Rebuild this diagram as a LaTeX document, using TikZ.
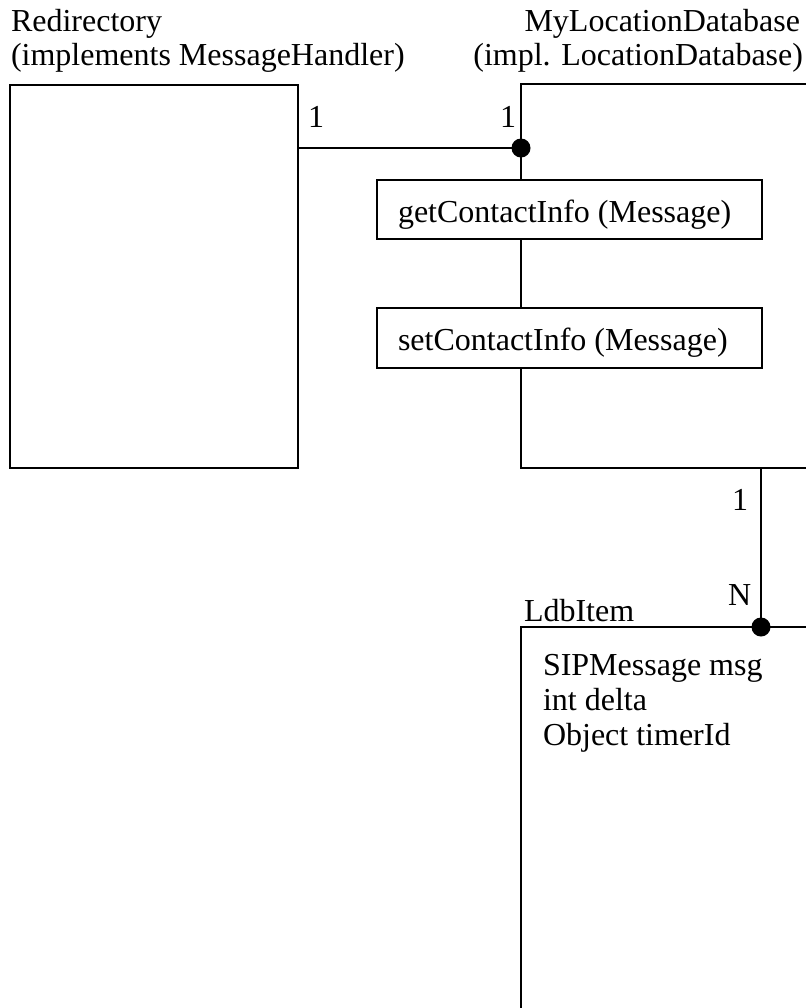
\documentclass[tikz,border=0pt]{standalone}
\usepackage{fontspec}
\setmainfont{Liberation Serif}
\begin{document}
\begin{tikzpicture}[x=0.5pt,y=-0.5pt,
  box/.style={draw,line width=1.2pt,fill=white,inner sep=0pt,outer sep=0pt,anchor=north west},
  txt/.style={inner sep=0pt,outer sep=0pt,font=\fontsize{16}{19}\selectfont},
  dotmark/.style={circle,fill=black,inner sep=0pt,minimum size=9.5pt}]
\useasboundingbox (0,0) rectangle (806,1008);
\clip (0,0) rectangle (806,1008);

% class boxes
\node[box,minimum width=144pt,minimum height=191.5pt] (redir) at (10,85) {};
\node[box,minimum width=160pt,minimum height=192pt] (myloc) at (521,84) {};
\node[box,minimum width=160pt,minimum height=206pt] (ldb) at (521,627) {};

% method boxes sitting on the left edge of MyLocationDatabase
\node[box,minimum width=192.5pt,minimum height=29.5pt] (get) at (377,180) {};
\node[box,minimum width=192.5pt,minimum height=30pt] (set) at (377,308) {};

% class titles
\node[txt,anchor=base west] (t1) at (11,31) {Redirectory};
\node[txt,anchor=base west] (t2) at (11,65) {(implements MessageHandler)};
\node[txt,anchor=base east] (t3) at (800,31) {MyLocationDatabase};
\node[txt,anchor=base east] (t4) at (803,65) {(impl. LocationDatabase)};
\node[txt,anchor=base west] (t5) at (524,621) {LdbItem};

% method names
\node[txt,anchor=base west] (m1) at (398,222) {getContactInfo (Message)};
\node[txt,anchor=base west] (m2) at (398,350) {setContactInfo (Message)};

% attributes
\node[txt,anchor=base west] (a1) at (543,675) {SIPMessage msg};
\node[txt,anchor=base west] (a2) at (543,710) {int delta};
\node[txt,anchor=base west] (a3) at (543,745) {Object timerId};

% associations
\coordinate (d1) at (521,148);
\coordinate (d2) at (761,627);
\draw[line width=1.2pt] (redir.east |- d1) -- (d1);
\draw[line width=1.2pt] (d2 |- myloc.south) -- (d2);
\node[dotmark] (dot1) at (d1) {};
\node[dotmark] (dot2) at (d2) {};

% multiplicities
\node[txt,anchor=base west] (n1) at (308,127) {1};
\node[txt,anchor=base west] (n2) at (500,127) {1};
\node[txt,anchor=base west] (n3) at (732,510) {1};
\node[txt,anchor=base west] (n4) at (728,605) {N};
\end{tikzpicture}
\end{document}
